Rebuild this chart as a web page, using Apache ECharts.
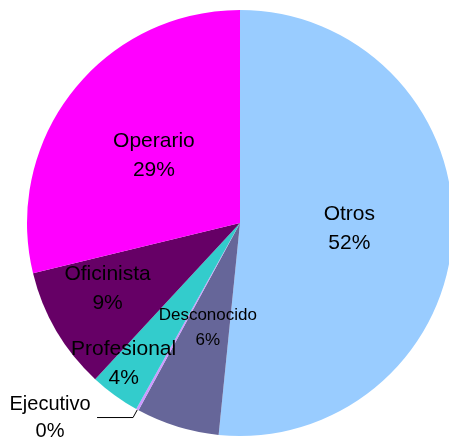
<!DOCTYPE html>
<html>
<head>
<meta charset="utf-8">
<script src="https://cdn.jsdelivr.net/npm/echarts@6/dist/echarts.min.js"></script>
<style>
html,body{margin:0;padding:0;background:#fff;}
#chart{width:449px;height:440px;}
</style>
</head>
<body>
<div id="chart"></div>
<script>
const categories = ['Otros', 'Desconocido', 'Ejecutivo', 'Profesional', 'Oficinista', 'Operario'];
const values = [51.6, 6.3, 0.2, 3.8, 9.3, 28.8];
const colors = ['#99CCFF', '#666699', '#CC99FF', '#33CCCC', '#660066', '#FF00FF'];

const labelShift = {
  'Oficinista': [-38, 10],
  'Profesional': [-52, 52]
};

const chart = echarts.init(document.getElementById('chart'));
const data = categories.map((c, i) => {
  const item = { name: c, value: values[i], itemStyle: { color: colors[i] } };
  if (c === 'Desconocido') {
    item.label = { fontSize: 17, lineHeight: 25 };
  }
  if (c === 'Ejecutivo') {
    item.label = {
      position: 'outside',
      formatter: p => '{n|' + p.name + '}\n{n|' + Math.round(p.percent) + '%}',
      rich: { n: { fontSize: 20, lineHeight: 27, width: 92, align: 'center', color: '#000', fontFamily: 'Liberation Sans, Arial, sans-serif' } },
      distanceToLabelLine: 1
    };
    item.labelLine = { show: true, length: 9, length2: 36, lineStyle: { color: '#000', width: 1 } };
  }
  return item;
});

chart.setOption({
  animation: false,
  backgroundColor: '#fff',
  series: [{
    type: 'pie',
    center: [240, 223],
    radius: 213,
    startAngle: 90,
    clockwise: true,
    avoidLabelOverlap: false,
    label: {
      show: true,
      position: 'inside',
      color: '#000',
      fontSize: 21,
      lineHeight: 29,
      fontFamily: 'Liberation Sans, Arial, sans-serif',
      formatter: p => p.name + '\n' + Math.round(p.percent) + '%'
    },
    labelLine: { show: false },
    labelLayout: function (params) {
      const name = categories[params.dataIndex];
      const s = labelShift[name];
      if (s) return { dx: s[0], dy: s[1] };
      return {};
    },
    emphasis: { disabled: true },
    data: data
  }]
});
</script>
</body>
</html>
